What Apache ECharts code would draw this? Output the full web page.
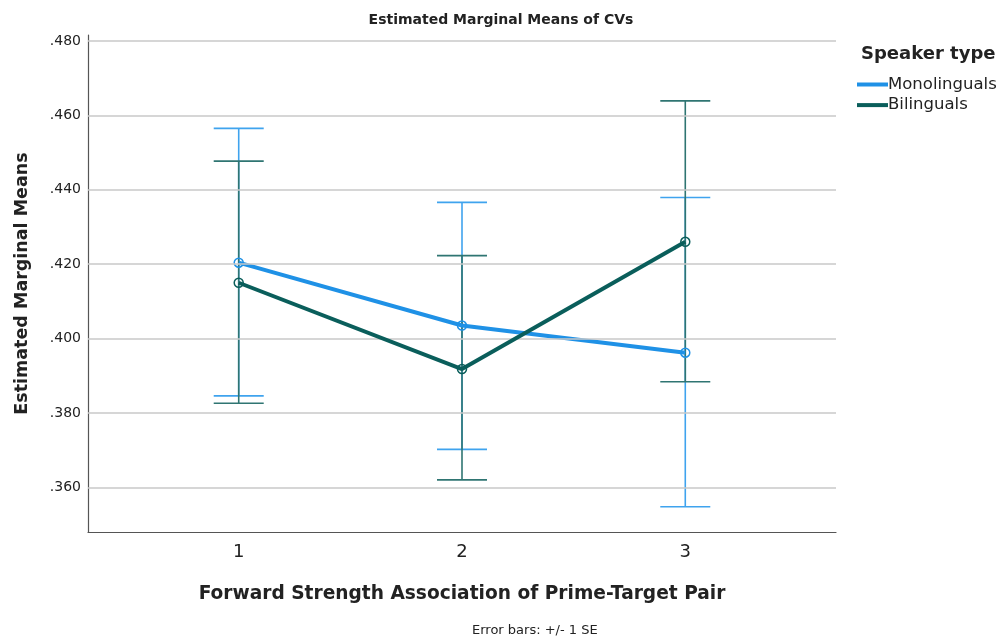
<!DOCTYPE html>
<html>
<head>
<meta charset="utf-8">
<script src="https://cdn.jsdelivr.net/npm/echarts@6/dist/echarts.min.js"></script>
<style>html,body{margin:0;padding:0;background:#fff}#c{width:1002px;height:643px}</style>
</head>
<body>
<div id="c"></div>
<script>
const categories = [1, 2, 3];
const seriesNames = ['Monolinguals', 'Bilinguals'];
const monoMean = [0.4204, 0.4035, 0.3962];
const monoLow  = [0.3846, 0.3702, 0.3548];
const monoHigh = [0.4565, 0.4366, 0.4379];
const biMean = [0.4150, 0.3918, 0.4260];
const biLow  = [0.3826, 0.3620, 0.3884];
const biHigh = [0.4477, 0.4223, 0.4639];
const yTicks = [0.36, 0.38, 0.40, 0.42, 0.44, 0.46, 0.48];

const monoColor = '#1f91e6';
const monoErr = '#3fa3ee';
const biColor = '#0a5e5b';
const biErr = '#2f7572';
const font = 'DejaVu Sans';

function errSeries(name, low, high, color, z) {
  return {
    type: 'custom', name: name, z: z,
    data: categories.map((c, i) => [c, low[i], high[i]]),
    encode: { x: 0, y: [1, 2] },
    renderItem: function (params, api) {
      const x = api.value(0);
      const lo = api.coord([x, api.value(1)]);
      const hi = api.coord([x, api.value(2)]);
      const hw = 25;
      const st = { stroke: color, lineWidth: 1.6 };
      return { type: 'group', children: [
        { type: 'line', shape: { x1: lo[0], y1: lo[1], x2: hi[0], y2: hi[1] }, style: st },
        { type: 'line', shape: { x1: lo[0]-hw, y1: lo[1], x2: lo[0]+hw, y2: lo[1] }, style: st },
        { type: 'line', shape: { x1: hi[0]-hw, y1: hi[1], x2: hi[0]+hw, y2: hi[1] }, style: st }
      ]};
    },
    silent: true
  };
}

const chart = echarts.init(document.getElementById('c'), null, { renderer: 'canvas' });
chart.setOption({
  animation: false,
  backgroundColor: '#fff',
  title: [
    { text: 'Estimated Marginal Means of CVs', left: 'center', top: 8,
      textStyle: { fontFamily: font, fontWeight: 'bold', fontSize: 14, color: '#222' } },
    { text: 'Speaker type', left: 856, top: 40,
      textStyle: { fontFamily: font, fontWeight: 'bold', fontSize: 18, color: '#222' } }
  ],
  legend: {
    data: [
      { name: seriesNames[0], itemStyle: { color: monoColor, borderWidth: 0 } },
      { name: seriesNames[1], itemStyle: { color: biColor, borderWidth: 0 } }
    ],
    orient: 'vertical', left: 852, top: 70.5,
    icon: 'rect', itemWidth: 31, itemHeight: 4, itemGap: 2.6,
    textStyle: { fontFamily: font, fontSize: 16.5, lineHeight: 18, color: '#222', padding: [0, 0, 0, -5] }
  },
  grid: { left: 88, right: 166, top: 35, bottom: 111, containLabel: false },
  xAxis: {
    type: 'value', min: 0.325, max: 3.675,
    axisLine: { show: true, lineStyle: { color: '#555', width: 1.2 } },
    axisTick: { show: false },
    splitLine: { show: false },
    axisLabel: { customValues: categories, fontFamily: font, fontSize: 18, color: '#222', margin: 11 },
    name: 'Forward Strength Association of Prime-Target Pair',
    nameLocation: 'middle', nameGap: 53,
    nameTextStyle: { fontFamily: font, fontWeight: 'bold', fontSize: 18.6, color: '#222' }
  },
  yAxis: {
    type: 'value', min: 0.348, max: 0.4816,
    axisLine: { show: true, lineStyle: { color: '#555', width: 1.2 } },
    axisTick: { show: false },
    splitLine: { show: false },
    axisLabel: { customValues: yTicks, fontFamily: font, fontSize: 14, color: '#222', margin: 7,
      formatter: v => v.toFixed(3).replace(/^0/, '') },
    name: 'Estimated Marginal Means',
    nameLocation: 'middle', nameGap: 57, nameRotate: 90,
    nameTextStyle: { fontFamily: font, fontWeight: 'bold', fontSize: 17.5, color: '#222' }
  },
  graphic: [
    { type: 'text', left: 472, top: 624,
      style: { text: 'Error bars: +/- 1 SE', fontFamily: font, fontSize: 13, fill: '#222' } }
  ],
  series: [
    {
      type: 'line', name: '_grid', data: [], silent: true, z: 0,
      markLine: { silent: true, symbol: 'none', label: { show: false },
        lineStyle: { color: '#c9c9c9', type: 'solid', width: 1.5 },
        data: yTicks.map(v => ({ yAxis: v })) }
    },
    errSeries('monoErr', monoLow, monoHigh, monoErr, 2),
    errSeries('biErr', biLow, biHigh, biErr, 3),
    {
      type: 'line', name: 'Monolinguals', z: 4,
      data: categories.map((c, i) => [c, monoMean[i]]),
      lineStyle: { color: monoColor, width: 4 },
      itemStyle: { color: 'rgba(0,0,0,0)', borderColor: monoColor, borderWidth: 1.5 },
      symbol: 'circle', symbolSize: 9, color: monoColor
    },
    {
      type: 'line', name: 'Bilinguals', z: 5,
      data: categories.map((c, i) => [c, biMean[i]]),
      lineStyle: { color: biColor, width: 4 },
      itemStyle: { color: 'rgba(0,0,0,0)', borderColor: biColor, borderWidth: 1.5 },
      symbol: 'circle', symbolSize: 9, color: biColor
    }
  ]
});
</script>
</body>
</html>
